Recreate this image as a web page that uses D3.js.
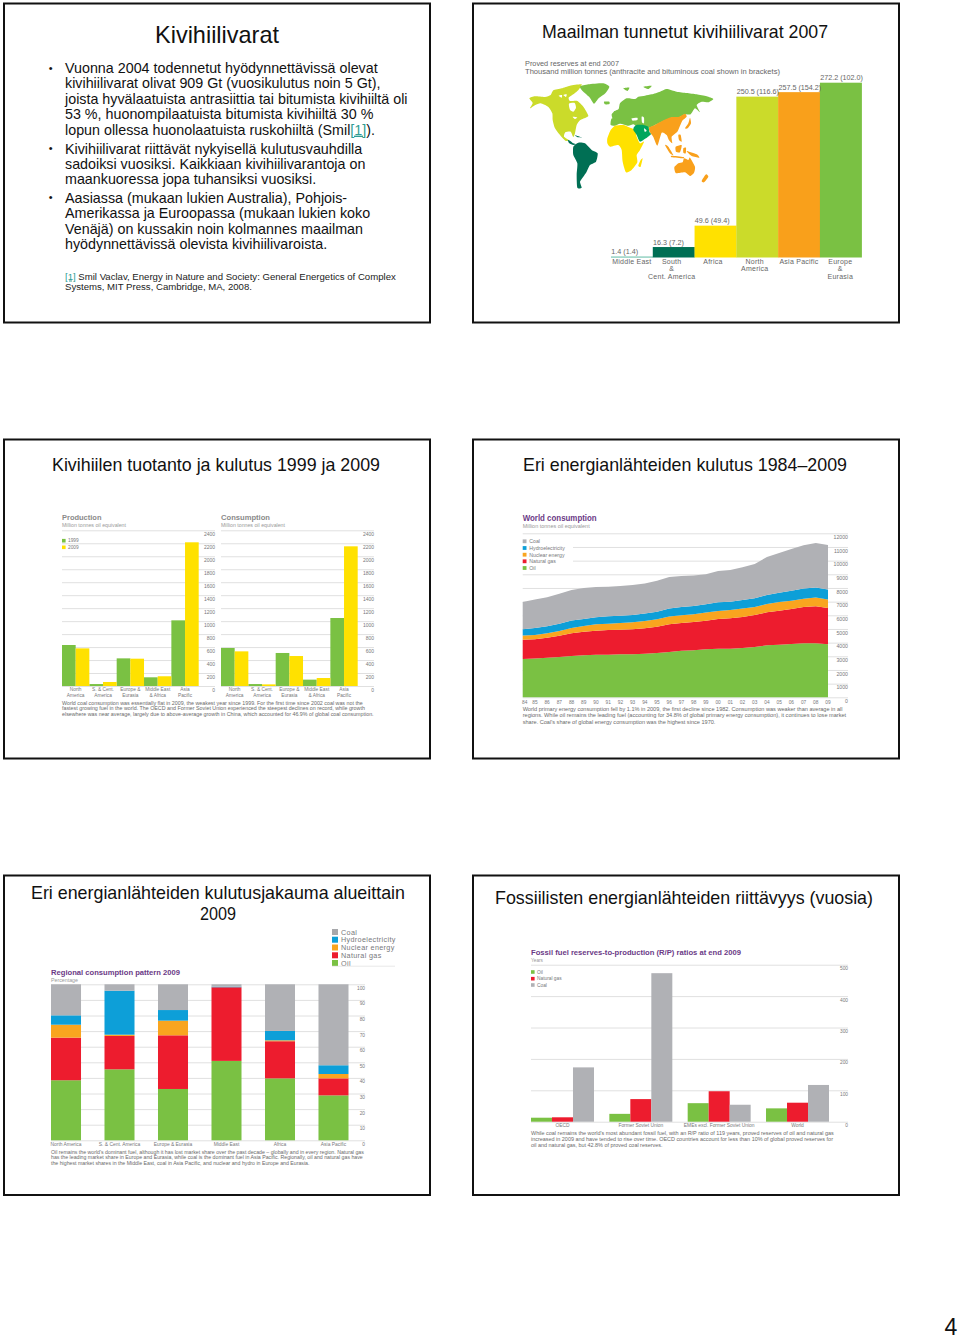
<!DOCTYPE html>
<html><head><meta charset="utf-8">
<style>html,body{margin:0;padding:0;background:#fff}svg{display:block}text{font-family:"Liberation Sans",Arial,sans-serif}</style>
<script src="https://cdn.jsdelivr.net/npm/d3@7/dist/d3.min.js"></script></head>
<body><svg id="c" width="960" height="1340"></svg>
<script>
// ---------- colours by fuel / region
const fuels = ["Oil","Natural gas","Nuclear energy","Hydroelectricity","Coal"];
const fuelColors = ["#7ac143","#ed1c2e","#f9a51f","#0d9fd8","#b0b1b5"];

// ---------- slide texts
const slideTitles = ["Kivihiilivarat","Maailman tunnetut kivihiilivarat 2007","Kivihiilen tuotanto ja kulutus 1999 ja 2009","Eri energianlähteiden kulutus 1984–2009","Fossiilisten energianlähteiden riittävyys (vuosia)"];
const para1 = ["Vuonna 2004 todennetut hyödynnettävissä olevat","kivihiilivarat olivat 909 Gt (vuosikulutus noin 5 Gt),","joista hyvälaatuista antrasiittia tai bitumista kivihiiltä oli","53 %, huonompilaatuista bitumista kivihiiltä 30 %"];
const para2 = ["Kivihiilivarat riittävät nykyisellä kulutusvauhdilla","sadoiksi vuosiksi. Kaikkiaan kivihiilivarantoja on","maankuoressa jopa tuhansiksi vuosiksi."];
const para3 = ["Aasiassa (mukaan lukien Australia), Pohjois-","Amerikassa ja Euroopassa (mukaan lukien koko","Venäjä) on kussakin noin kolmannes maailman","hyödynnettävissä olevista kivihiilivaroista."];

// ---------- chart 1: reserves
const resRegions = [["Middle East"],["South","&","Cent. America"],["Africa"],["North","America"],["Asia Pacific"],["Europe","&","Eurasia"]];
const resTotal = [1.4,16.3,49.6,250.5,257.5,272.2];
const resLabels = ["1.4 (1.4)","16.3 (7.2)","49.6 (49.4)","250.5 (116.6)","257.5 (154.2)","272.2 (102.0)"];
const resColors = ["#4fb39a","#006f54","#ffe100","#cbdb2a","#f9a01b","#7ac143"];

// map outlines on a 600 x 360 grid
const mapNorthAmerica = [[28,70],[45,64],[75,66],[92,60],[100,46],[125,40],[150,32],[185,28],[176,44],[160,58],[146,68],[150,78],[172,78],[190,95],[205,122],[192,130],[180,136],[170,150],[165,175],[160,186],[152,170],[136,172],[132,185],[148,196],[136,197],[118,178],[105,160],[98,135],[97,115],[85,96],[62,85],[46,90],[30,100],[38,84]];
const mapHudson = [[147,86],[164,84],[168,98],[160,110],[150,104]];
const mapArctic1 = [[130,60],[140,58],[138,66]];
const mapArctic2 = [[116,62],[126,60],[125,68]];
const mapLakes = [[158,125],[172,127],[165,132]];
const mapGreenland = [[180,35],[205,28],[250,25],[268,35],[256,55],[236,70],[222,86],[208,66],[190,50]];
const mapIceland = [[252,80],[268,80],[268,87],[255,88]];
const mapSvalbard = [[310,40],[328,38],[322,48]];
const mapNovaya = [[370,35],[395,32],[385,42]];
const mapBritain = [[275,118],[285,108],[290,125],[278,130]];
const mapEurasia = [[272,150],[274,132],[288,124],[282,110],[296,102],[300,85],[320,70],[345,72],[355,65],[375,62],[395,58],[420,50],[440,42],[470,50],[500,54],[530,58],[560,64],[580,72],[565,82],[545,80],[530,90],[540,112],[525,100],[512,118],[495,118],[475,128],[455,128],[430,138],[395,155],[385,158],[370,155],[350,155],[340,148],[325,152],[300,146],[285,152]];
const mapBlackSea = [[335,130],[352,128],[352,135],[338,137]];
const mapCaspian = [[365,125],[372,128],[372,145],[366,142]];
const mapAsia = [[387,158],[405,150],[430,136],[455,126],[475,126],[495,116],[500,125],[487,137],[480,152],[472,170],[455,185],[457,205],[447,196],[440,180],[425,173],[412,212],[400,186],[390,172]];
const mapJapan = [[495,160],[505,145],[510,128],[513,145],[503,160]];
const mapPhilippines = [[475,180],[482,180],[485,200],[477,195]];
const mapSumatra = [[435,210],[445,215],[460,240],[450,235]];
const mapBorneo = [[467,215],[485,210],[480,232],[468,230]];
const mapJava = [[455,242],[490,246],[490,250],[455,247]];
const mapSulawesi = [[490,220],[498,218],[497,235],[490,233]];
const mapGuinea = [[500,228],[530,238],[538,248],[515,243]];
const mapAustralia = [[463,277],[475,265],[488,262],[492,250],[505,255],[510,248],[525,275],[522,293],[510,303],[495,292],[470,295],[465,290]];
const mapZealand = [[558,298],[565,305],[552,322],[545,318]];
const mapArabia = [[342,156],[350,150],[370,150],[385,155],[388,170],[393,178],[378,190],[360,200],[350,180],[340,165]];
const mapGulf = [[372,160],[380,167],[374,170]];
const mapAfrica = [[262,190],[272,165],[285,152],[310,150],[325,156],[345,165],[350,185],[360,205],[372,200],[360,225],[350,240],[352,262],[335,285],[318,292],[308,260],[305,225],[295,210],[270,215],[262,205]];
const mapMadagascar = [[362,255],[368,250],[362,275],[355,272]];
const mapSouthAmerica = [[160,215],[175,203],[195,205],[215,225],[233,235],[228,260],[210,270],[200,290],[190,305],[180,320],[185,338],[172,338],[170,300],[172,265],[160,240]];
const mapCentral = [[143,195],[150,197],[160,205],[168,208],[160,210],[148,205]];
const mapCuba = [[165,181],[186,188],[173,187]];

// ---------- chart 2: coal production / consumption
const coalRegions = [["North","America"],["S. & Cent.","America"],["Europe &","Eurasia"],["Middle East","& Africa"],["Asia","Pacific"]];
const prod1999 = [632,30,426,134,1012];
const prod2009 = [580,62,421,150,2215];
const cons1999 = [586,30,509,98,1048];
const cons2009 = [534,25,462,123,2153];
const coalTicks = d3.range(0,2401,200);
const coalCaption = ["World coal consumption was essentially flat in 2009, the weakest year since 1999. For the first time since 2002 coal was not the","fastest growing fuel in the world. The OECD and Former Soviet Union experienced the steepest declines on record, while growth","elsewhere was near average, largely due to above-average growth in China, which accounted for 46.9% of global coal consumption."];

// ---------- chart 3: world consumption
const years = ["84","85","86","87","88","89","90","91","92","93","94","95","96","97","98","99","00","01","02","03","04","05","06","07","08","09"];
const worldOil = [2805,2830,2900,2950,3025,3075,3120,3120,3145,3145,3195,3245,3320,3415,3440,3510,3560,3560,3610,3680,3800,3850,3900,3950,3950,3880];
const worldGas = [1415,1415,1463,1560,1660,1730,1756,1805,1805,1830,1855,1925,2025,2025,2075,2100,2170,2220,2270,2340,2415,2490,2560,2660,2710,2660];
const worldNuclear = [293,317,317,342,390,415,464,464,488,512,537,537,561,561,561,586,586,610,610,586,610,634,610,610,634,610];
const worldHydro = [464,512,512,537,537,512,512,537,537,537,537,561,586,610,610,610,634,610,634,634,659,683,732,732,732,732];
const worldCoal = [2000,2073,2122,2195,2244,2268,2220,2171,2171,2195,2195,2268,2317,2268,2220,2195,2293,2317,2390,2512,2780,2902,3049,3171,3268,3268];
const worldTicks = d3.range(0,12001,1000);
const worldCaption = ["World primary energy consumption fell by 1.1% in 2009, the first decline since 1982. Consumption was weaker than average in all","regions. While oil remains the leading fuel (accounting for 34.8% of global primary energy consumption), it continues to lose market","share. Coal's share of global energy consumption was the highest since 1970."];

// ---------- chart 4: regional pattern
const patternRegions = ["North America","S. & Cent. America","Europe & Eurasia","Middle East","Africa","Asia Pacific"];
const patternOil = [38.5,45.5,32.9,50.9,39.7,28.8];
const patternGas = [27.3,21.4,34.4,47.2,23.8,10.9];
const patternNuclear = [8.3,0.8,9.4,0,0.6,2.8];
const patternHydro = [6,28.2,6.8,0.4,6,5.6];
const patternCoal = [19.9,4.1,16.5,1.5,29.9,51.9];
const patternTicks = d3.range(0,101,10);
const patternCaption = ["Oil remains the world's dominant fuel, although it has lost market share over the past decade – globally and in every region. Natural gas","has the leading market share in Europe and Eurasia, while coal is the dominant fuel in Asia Pacific. Regionally, oil and natural gas have","the highest market shares in the Middle East, coal in Asia Pacific, and nuclear and hydro in Europe and Eurasia."];

// ---------- chart 5: R/P ratios
const rpGroups = ["OECD","Former Soviet Union","EMEs excl. Former Soviet Union","World"];
const rpOil = [12.7,25,59,42.5];
const rpGas = [14,72,97,60.5];
const rpCoal = [173,473,54,117];
const rpTicks = [0,100,200,300,400,500];
const rpCaption = ["While coal remains the world's most abundant fossil fuel, with an R/P ratio of 119 years, proved reserves of oil and natural gas","increased in 2009 and have tended to rise over time. OECD countries account for less than 10% of global proved reserves for","oil and natural gas, but 42.8% of proved coal reserves."];

// =====================================================================
const svg = d3.select("#c");
const GRAY="#77787b", GRID="#e0e0e0", PURPLE="#6b3a86";
const BODY=14.3;

// slide frames
const frameX=[[4,430],[473,899]], frameY=[[3.5,322.5],[439.5,758.5],[875.5,1195]];
frameY.forEach(fy=>frameX.forEach(fx=>svg.append("rect").attr("x",fx[0]).attr("y",fy[0]).attr("width",fx[1]-fx[0]).attr("height",fy[1]-fy[0]).attr("fill","#fff").attr("stroke","#111").attr("stroke-width",2)));

function fit(sel,w){sel.attr("textLength",w).attr("lengthAdjust","spacingAndGlyphs");return sel;}
function title(t,cx,y,w,fs){fit(svg.append("text").attr("x",cx).attr("y",y).attr("text-anchor","middle").attr("font-size",fs).attr("fill","#111").text(t),w);}
title(slideTitles[0],217,43,124,24);
title(slideTitles[1],685,38,286,18.5);
title(slideTitles[2],216,471,328,18.5);
title(slideTitles[3],685,471,324,18.5);
title("Eri energianlähteiden kulutusjakauma alueittain",218,899,374,18.5);
title("2009",218,920,36,18.5);
title(slideTitles[4],684,904,378,18.5);
svg.append("text").attr("x",951).attr("y",1335).attr("text-anchor","middle").attr("font-size",23).attr("fill","#111").text("4");

// slide 1 text
function para(lines,y0,dy){
  svg.append("text").attr("x",50.7).attr("y",y0-1.4).attr("text-anchor","middle").attr("font-size",11).attr("fill","#111").text("•");
  lines.forEach((l,i)=>svg.append("text").attr("x",65).attr("y",y0+i*dy).attr("font-size",BODY).attr("fill","#111").text(l));
}
para(para1,73,15.4);
const l5=svg.append("text").attr("x",65).attr("y",134.6).attr("font-size",BODY).attr("fill","#111");
l5.append("tspan").text("lopun ollessa huonolaatuista ruskohiiltä (Smil");
l5.append("tspan").attr("fill","#2f9d94").attr("text-decoration","underline").text("[1]");
l5.append("tspan").text(").");
para(para2,153.6,15.4);
para(para3,202.8,15.4);
const fn=svg.append("text").attr("x",65).attr("y",279.5).attr("font-size",9.6).attr("fill","#222");
fn.append("tspan").attr("fill","#2f9d94").attr("text-decoration","underline").text("[1]");
fn.append("tspan").text(" Smil Vaclav, Energy in Nature and Society: General Energetics of Complex");
svg.append("text").attr("x",65).attr("y",290).attr("font-size",9.6).attr("fill","#222").text("Systems, MIT Press, Cambridge, MA, 2008.");

// caption: font size scaled so the widest line spans the given width
function caption(lines,x,y0,dy,width,color){
  const g=svg.append("g");
  const ts=lines.map((l,i)=>g.append("text").attr("x",x).attr("y",y0+i*dy).attr("font-size",10).attr("fill",color||"#6a6a6a").text(l));
  const m=d3.max(ts,t=>t.node().getComputedTextLength());
  ts.forEach(t=>t.attr("font-size",10*width/m));
}
function head(t,sub,x,y,size,w,suby,subw,color){
  fit(svg.append("text").attr("x",x).attr("y",y).attr("font-size",size).attr("font-weight","bold").attr("fill",color||PURPLE).text(t),w);
  if(sub) fit(svg.append("text").attr("x",x).attr("y",suby).attr("font-size",5.2).attr("fill","#999").text(sub),subw);
}
function yAxis(yScale,rightX,width,ticks,fs,off){
  const g=svg.append("g").attr("transform",`translate(${rightX},0)`).call(d3.axisRight(yScale).tickValues(ticks).tickSize(-width).tickFormat(d3.format("d")));
  g.select(".domain").remove();
  g.selectAll("line").attr("stroke",GRID).attr("stroke-width",1);
  g.selectAll("text").attr("x",0).attr("y",off).attr("text-anchor","end").attr("font-size",fs).attr("fill",GRAY);
}
function legend(names,colors,x,ys,sw,tx,fs,spacing){
  names.forEach((n,i)=>{
    svg.append("rect").attr("x",x).attr("y",ys[i]-sw/2).attr("width",sw).attr("height",sw).attr("fill",colors[i]);
    svg.append("text").attr("x",tx).attr("y",ys[i]).attr("dy",".35em").attr("font-size",fs).attr("letter-spacing",spacing||0).attr("fill",GRAY).text(n);
  });
}

// ---- chart 1
(function(){
  [["Proved reserves at end 2007",66,94],["Thousand million tonnes (anthracite and bituminous coal shown in brackets)",73.5,255]].forEach(d=>
    fit(svg.append("text").attr("x",525).attr("y",d[1]).attr("font-size",7.4).attr("fill","#666").text(d[0]),d[2]));
  const x=d3.scaleBand().domain(d3.range(6)).range([611,861.7]);
  const y=d3.scaleLinear().domain([0,272.2]).range([257.5,82.7]);
  svg.selectAll(".rb").data(resTotal).join("rect").attr("x",(d,i)=>x(i)).attr("width",x.bandwidth()+.2).attr("y",d=>y(d)).attr("height",d=>y(0)-y(d)).attr("fill",(d,i)=>resColors[i]);
  const labelShift=[0,-2,-2.5,-2.5,0,-.5];
  resLabels.forEach((l,i)=>{
    svg.append("text").attr("x",x(i)+.3).attr("y",y(resTotal[i])-2.4).attr("font-size",7.2).attr("fill","#666").text(l);
    resRegions[i].forEach((t,j)=>svg.append("text").attr("x",x(i)+x.bandwidth()/2+labelShift[i]).attr("y",264.2+j*7.2).attr("text-anchor","middle").attr("font-size",7).attr("letter-spacing",0.25).attr("fill","#666").text(t));
  });
  const mx=d3.scaleLinear().domain([0,600]).range([520,720]), my=d3.scaleLinear().domain([0,360]).range([75,195]);
  const line=d3.line().x(d=>mx(d[0])).y(d=>my(d[1])).curve(d3.curveCardinalClosed.tension(0.4));
  [[mapNorthAmerica,resColors[3]],[mapHudson,"#fff"],[mapArctic1,"#fff"],[mapArctic2,"#fff"],[mapLakes,"#fff"],[mapGreenland,resColors[5]],[mapIceland,resColors[5]],[mapSvalbard,resColors[5]],[mapNovaya,resColors[5]],[mapBritain,resColors[5]],[mapEurasia,resColors[5]],[mapBlackSea,"#fff"],[mapCaspian,"#fff"],
   [mapAsia,resColors[4]],[mapJapan,resColors[4]],[mapPhilippines,resColors[4]],[mapSumatra,resColors[4]],[mapBorneo,resColors[4]],[mapJava,resColors[4]],[mapSulawesi,resColors[4]],[mapGuinea,resColors[4]],[mapAustralia,resColors[4]],[mapZealand,resColors[4]],
   [mapAfrica,resColors[2]],[mapMadagascar,resColors[2]],[mapArabia,"#00a65d"],[mapGulf,"#fff"],[mapSouthAmerica,resColors[1]],[mapCentral,resColors[1]],[mapCuba,resColors[1]]]
   .forEach(d=>svg.append("path").attr("d",line(d[0])).attr("fill",d[1]));
})();

// ---- chart 2
function coalChart(name,sub,a,b,x0,right){
  head(name,sub,x0,520,8,name==="Production"?39.5:49,526.5,64,"#8a8a8a");
  const y=d3.scaleLinear().domain([0,2400]).range([686,530.3]);
  yAxis(y,right,right-x0,coalTicks,5,3.5);
  const x=d3.scaleBand().domain(d3.range(5)).range([x0,x0+136.7]);
  const xs=d3.scaleBand().domain([0,1]).range([0,x.bandwidth()]);
  [[a,"#7ac143"],[b,"#ffe100"]].forEach((s,k)=>svg.append("g").selectAll("rect").data(s[0]).join("rect")
    .attr("x",(d,i)=>x(i)+xs(k)).attr("width",xs.bandwidth()).attr("y",d=>y(d)).attr("height",d=>y(0)-y(d)).attr("fill",s[1]));
  coalRegions.forEach((r,i)=>r.forEach((t,j)=>svg.append("text").attr("x",x(i)+x.bandwidth()/2).attr("y",691+j*6).attr("text-anchor","middle").attr("font-size",4.8).attr("fill",GRAY).text(t)));
}
coalChart("Production","Million tonnes oil equivalent",prod1999,prod2009,62,215);
coalChart("Consumption","Million tonnes oil equivalent",cons1999,cons2009,221,374);
legend(["1999","2009"],["#7ac143","#ffe100"],62,[540.7,547.3],3.6,68,4.8);
caption(coalCaption,62,704.5,5.9,312);

// ---- chart 3
(function(){
  head("World consumption","Million tonnes oil equivalent",522.7,520.5,8.2,74,527.5,67);
  const y=d3.scaleLinear().domain([0,12000]).range([697.3,533.3]);
  yAxis(y,848,848-522.7,worldTicks,5.2,3.6);
  const rows=years.map((yr,i)=>({yr,"Oil":worldOil[i],"Natural gas":worldGas[i],"Nuclear energy":worldNuclear[i],"Hydroelectricity":worldHydro[i],"Coal":worldCoal[i]}));
  const x=d3.scalePoint().domain(years).range([522.7,828]);
  const stack=d3.stack().keys(fuels)(rows);
  const area=d3.area().x(d=>x(d.data.yr)).y0(d=>y(d[0])).y1(d=>y(d[1]));
  svg.append("g").selectAll("path").data(stack).join("path").attr("d",area).attr("fill",(d,i)=>fuelColors[i]);
  years.forEach(t=>svg.append("text").attr("x",Math.max(x(t),524.7)).attr("y",703.5).attr("text-anchor","middle").attr("font-size",4.8).attr("fill",GRAY).text(t));
  svg.append("rect").attr("x",520).attr("y",536).attr("width",53).attr("height",36).attr("fill","#fff");
  legend(["Coal","Hydroelectricity","Nuclear energy","Natural gas","Oil"],["#b0b1b5","#0d9fd8","#f9a51f","#ed1c2e","#7ac143"],522.7,[541.3,548,554.7,561.3,568],3.8,529.3,5.2);
  caption(worldCaption,522.7,711,6.35,324);
})();

// ---- chart 4
(function(){
  head("Regional consumption pattern 2009","Percentage",51,975,7.6,129,981.5,27);
  const y=d3.scaleLinear().domain([0,100]).range([1140.3,984.3]);
  yAxis(y,365,365-51,patternTicks,4.8,3.4);
  const x=d3.scaleBand().domain(patternRegions).range([51,348.5]).paddingInner(0.439).paddingOuter(0);
  const rows=patternRegions.map((r,i)=>({r,"Oil":patternOil[i],"Natural gas":patternGas[i],"Nuclear energy":patternNuclear[i],"Hydroelectricity":patternHydro[i],"Coal":patternCoal[i]}));
  const stack=d3.stack().keys(fuels)(rows);
  svg.append("g").selectAll("g").data(stack).join("g").attr("fill",(d,i)=>fuelColors[i]).selectAll("rect").data(d=>d).join("rect")
    .attr("x",d=>x(d.data.r)).attr("width",x.bandwidth()).attr("y",d=>y(d[1])).attr("height",d=>y(d[0])-y(d[1]));
  patternRegions.forEach(r=>svg.append("text").attr("x",x(r)+x.bandwidth()/2).attr("y",1145.5).attr("text-anchor","middle").attr("font-size",4.9).attr("fill",GRAY).text(r));
  caption(patternCaption,51,1153.7,5.7,314);
  legend(["Coal","Hydroelectricity","Nuclear energy","Natural gas","Oil"],["#a7a8ab","#0d9fd8","#f9a51f","#ed1c2e","#7ac143"],332,[932,939.7,947.5,955.3,963],6,341,7.2,.35);
  svg.append("line").attr("x1",332).attr("x2",395).attr("y1",966.2).attr("y2",966.2).attr("stroke",GRID).attr("stroke-width",.7);
})();

// ---- chart 5
(function(){
  head("Fossil fuel reserves-to-production (R/P) ratios at end 2009","Years",531,955,7.8,210,961.5,12);
  const y=d3.scaleLinear().domain([0,500]).range([1121.7,964.7]);
  yAxis(y,848,848-531,rpTicks,4.8,3.5);
  const x=d3.scaleBand().domain(rpGroups).range([531,829]).paddingInner(0.196).paddingOuter(0);
  const xs=d3.scaleBand().domain([0,1,2]).range([0,x.bandwidth()]);
  [[rpOil,fuelColors[0]],[rpGas,fuelColors[1]],[rpCoal,fuelColors[4]]].forEach((s,k)=>svg.append("g").selectAll("rect").data(s[0]).join("rect")
    .attr("x",(d,i)=>x(rpGroups[i])+xs(k)).attr("width",xs.bandwidth()).attr("y",d=>y(d)).attr("height",d=>y(0)-y(d)).attr("fill",s[1]));
  rpGroups.forEach(g=>svg.append("text").attr("x",x(g)+x.bandwidth()/2).attr("y",1127).attr("text-anchor","middle").attr("font-size",4.9).attr("fill",GRAY).text(g));
  svg.append("rect").attr("x",530).attr("y",967).attr("width",44).attr("height",24).attr("fill","#fff");
  legend(["Oil","Natural gas","Coal"],[fuelColors[0],fuelColors[1],fuelColors[4]],531,[972,978.7,985],3.6,537,4.8);
  caption(rpCaption,531,1135,6,304);
})();
</script></body></html>
